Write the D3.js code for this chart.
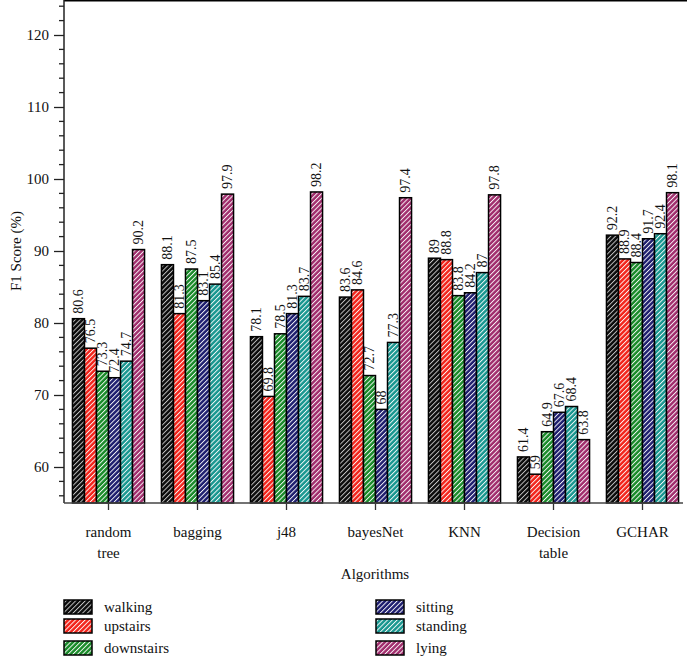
<!DOCTYPE html>
<html><head><meta charset="utf-8">
<script src="https://cdn.jsdelivr.net/npm/d3@7"></script>
<style>body{margin:0;background:#fff}svg{display:block}text{font-family:"Liberation Serif","Times New Roman",serif;fill:#111}</style>
</head><body><svg id="c" width="687" height="657"></svg>
<script>
const categories = ["random tree","bagging","j48","bayesNet","KNN","Decision table","GCHAR"];
const series = ["walking","upstairs","downstairs","sitting","standing","lying"];
const walking    = [80.6, 88.1, 78.1, 83.6, 89, 61.4, 92.2];
const upstairs   = [76.5, 81.3, 69.8, 84.6, 88.8, 59, 88.9];
const downstairs = [73.3, 87.5, 78.5, 72.7, 83.8, 64.9, 88.4];
const sitting    = [72.4, 83.1, 81.3, 68, 84.2, 67.6, 91.7];
const standing   = [74.7, 85.4, 83.7, 77.3, 87, 68.4, 92.4];
const lying      = [90.2, 97.9, 98.2, 97.4, 97.8, 63.8, 98.1];
const yTicks = [60,70,80,90,100,110,120];
const colors = ["#0a0a0a","#f2231a","#188a28","#1d1d6e","#17968f","#a02c6c"];
const values = [walking, upstairs, downstairs, sitting, standing, lying];

const svg = d3.select("#c");
const defs = svg.append("defs");
colors.forEach((c,i)=>{
  const p = defs.append("pattern").attr("id","h"+i).attr("patternUnits","userSpaceOnUse")
    .attr("width",3.4).attr("height",3.4).attr("patternTransform","rotate(45)");
  p.append("rect").attr("width",3.4).attr("height",3.4).attr("fill",c);
  p.append("line").attr("x1",0.5).attr("y1",0).attr("x2",0.5).attr("y2",3.4)
    .attr("stroke", i===0 ? "#d0d0d0" : "#fff").attr("stroke-width",0.9);
});

const left = 64, right = 687, axisY = 503;
const x0 = d3.scaleBand().domain(categories).range([left,right]).paddingInner(0.19).paddingOuter(0.095);
const x1 = d3.scaleBand().domain(series).range([0,x0.bandwidth()]);
const y = d3.scaleLinear().domain([55,125]).range([axisY,-1]);

// frame top
svg.append("line").attr("x1",left).attr("x2",right).attr("y1",0.8).attr("y2",0.8).attr("stroke","#000").attr("stroke-width",1.5);

// bars
const rows = [];
categories.forEach((c,ci)=>series.forEach((s,si)=>rows.push({c,s,si,v:values[si][ci]})));
svg.append("g").selectAll("rect").data(rows).join("rect")
  .attr("x",d=>x0(d.c)+x1(d.s)).attr("width",x1.bandwidth())
  .attr("y",d=>y(d.v)).attr("height",d=>axisY-y(d.v))
  .attr("fill",d=>"url(#h"+d.si+")").attr("stroke","#000").attr("stroke-width",1.5);

// labels
svg.append("g").selectAll("text").data(rows).join("text")
  .attr("transform",d=>`translate(${x0(d.c)+x1(d.s)+x1.bandwidth()/2},${y(d.v)-5}) rotate(-90)`)
  .attr("dy","0.35em").attr("text-anchor","start").attr("font-size",14)
  .text(d=>d.v);

// y axis
const yAxis = d3.axisLeft(y).tickValues(yTicks).tickSize(10).tickPadding(5).tickFormat(d3.format("d"));
const gy = svg.append("g").attr("transform",`translate(${left},0)`).call(yAxis);
gy.select(".domain").remove();
gy.selectAll("text").attr("font-size",15).style("font-family",'"Liberation Serif",serif');
gy.selectAll("line").attr("stroke","#222").attr("stroke-width",1.3);
const minor = d3.range(56,125,2).filter(v=>v%10!==0);
svg.append("g").selectAll("line").data(minor).join("line")
  .attr("x1",left-5).attr("x2",left).attr("y1",d=>y(d)).attr("y2",d=>y(d))
  .attr("stroke","#222").attr("stroke-width",1.3);
svg.append("line").attr("x1",left).attr("x2",left).attr("y1",0).attr("y2",axisY).attr("stroke","#222").attr("stroke-width",1.5);

// x axis
const xAxis = d3.axisBottom(x0).tickSize(7).tickFormat("");
const gx = svg.append("g").attr("transform",`translate(0,${axisY})`).call(xAxis);
gx.select(".domain").remove();
gx.selectAll("line").attr("stroke","#333").attr("stroke-width",1.3);
svg.append("line").attr("x1",left).attr("x2",683).attr("y1",axisY).attr("y2",axisY).attr("stroke","#444").attr("stroke-width",1.5);
svg.append("g").selectAll("text").data(categories).join("text")
  .attr("x",d=>x0(d)+x0.bandwidth()/2).attr("y",537).attr("text-anchor","middle").attr("font-size",15)
  .each(function(d){
    const words = d.split(" ");
    const t = d3.select(this);
    words.forEach((w,i)=>t.append("tspan").attr("x",x0(d)+x0.bandwidth()/2).attr("dy",i===0?0:21).text(w));
  });

// axis titles
svg.append("text").attr("x",375).attr("y",579).attr("text-anchor","middle").attr("font-size",15).text("Algorithms");
svg.append("text").attr("transform","translate(21,251) rotate(-90)").attr("text-anchor","middle").attr("font-size",15).text("F1 Score (%)");

// legend
const legPos = [[64,607],[64,626],[64,648],[376,607],[376,626],[376,648]];
const lg = svg.append("g").selectAll("g").data(series).join("g")
  .attr("transform",(d,i)=>`translate(${legPos[i][0]},${legPos[i][1]})`);
lg.append("rect").attr("x",0).attr("y",-7).attr("width",28).attr("height",14)
  .attr("fill",(d,i)=>"url(#h"+i+")").attr("stroke","#000").attr("stroke-width",1.5);
lg.append("text").attr("x",40).attr("y",5).attr("font-size",15).text(d=>d);
</script></body></html>
